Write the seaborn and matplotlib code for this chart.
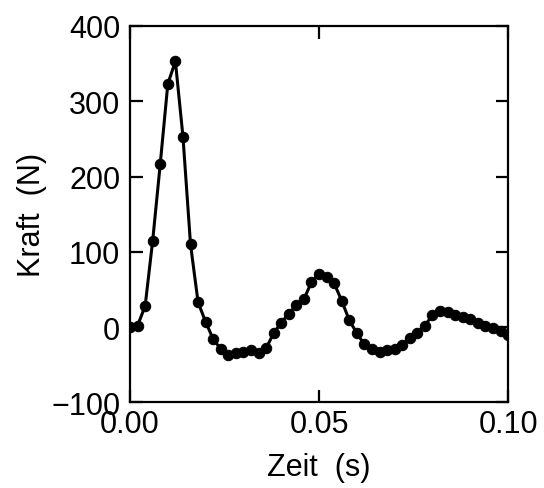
import matplotlib
matplotlib.use("Agg")
import matplotlib.pyplot as plt
import numpy as np
import pandas as pd
import seaborn as sns

# Sampled force signal, one point every 2 ms
zeit = np.round(np.arange(51) * 0.002, 3)
kraft = [
    0, 2, 28, 115, 217, 323, 353, 253, 110, 33,
    7, -16, -29, -37, -34, -33, -31, -35, -28, -8,
    6, 18, 29, 37, 60, 71, 67, 58, 35, 9,
    -8, -23, -29, -33, -30, -29, -24, -14, -8, 2,
    16, 22, 20, 16, 14, 11, 5, 2, -1, -5,
    -11,
]
x_ticks = [0.00, 0.05, 0.10]
x_tick_labels = ["0.00", "0.05", "0.10"]
y_ticks = [-100, 0, 100, 200, 300, 400]
y_tick_labels = ["\u2212100", "0", "100", "200", "300", "400"]

df = pd.DataFrame({"Zeit": zeit, "Kraft": kraft})

sns.set_style("ticks")
plt.rcParams["font.family"] = ["Liberation Sans", "DejaVu Sans"]

fig = plt.figure(figsize=(5.44, 4.89), dpi=100)
ax = fig.add_axes([0.239, 0.175, 0.695, 0.770])

sns.lineplot(
    data=df, x="Zeit", y="Kraft", ax=ax,
    color="black", linewidth=2.2, marker="o", markersize=7.5,
    markeredgecolor="black", markerfacecolor="black",
)

ax.set_xlim(0, 0.1)
ax.set_ylim(-100, 400)
ax.set_xticks(x_ticks)
ax.set_xticklabels(x_tick_labels)
ax.set_yticks(y_ticks)
ax.set_yticklabels(y_tick_labels)
ax.tick_params(direction="in", length=9, width=1.6, labelsize=22,
               top=True, right=True, colors="black")
ax.tick_params(axis="y", pad=7)
ax.tick_params(axis="x", pad=5)
for side in ax.spines.values():
    side.set_visible(True)
    side.set_linewidth(1.6)
    side.set_color("black")

ax.set_xlabel("Zeit  (s)", fontsize=22, labelpad=9, color="black")
ax.set_ylabel("Kraft  (N)", fontsize=22, labelpad=3, color="black")

fig.savefig("out.png", dpi=100)
